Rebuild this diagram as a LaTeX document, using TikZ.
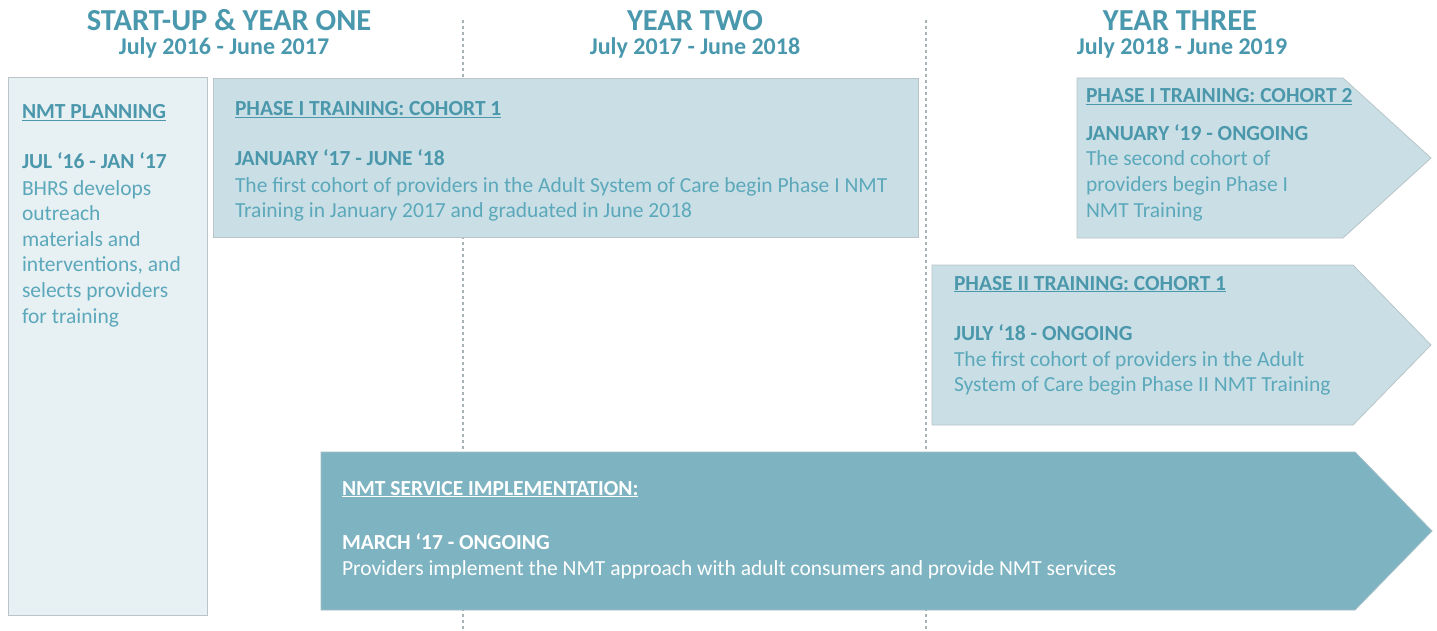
\documentclass[tikz,border=0pt]{standalone}
\usepackage{fontspec}
\setmainfont{Carlito}
\definecolor{headc}{HTML}{4A98AD}
\definecolor{datec}{HTML}{4B97AB}
\definecolor{bodyc}{HTML}{5CA8BB}
\definecolor{planfill}{HTML}{E7F0F3}
\definecolor{phasefill}{HTML}{C9DFE5}
\definecolor{servfill}{HTML}{7EB4C2}
\definecolor{edgec}{HTML}{B9C5C9}
\definecolor{gridc}{HTML}{A7B3B7}
\begin{document}
\begin{tikzpicture}[x=1pt,y=-1pt,
  every node/.style={inner sep=0pt,outer sep=0pt},
  yearhead/.style={font=\fontsize{30.5}{34}\selectfont\bfseries,text=headc,anchor=base,text depth=0pt},
  yearsub/.style={font=\fontsize{24}{28}\selectfont\bfseries,text=headc,anchor=base,text height=16pt},
  boxtitle/.style={font=\fontsize{21.5}{25.6}\selectfont\bfseries,text=datec,anchor=base west},
  boxdate/.style={font=\fontsize{21.5}{25.6}\selectfont\bfseries,text=datec,anchor=base west},
  boxbody/.style={font=\fontsize{21.5}{25.6}\selectfont,text=bodyc,anchor=base west,align=left},
  whitetitle/.style={boxtitle,text=white},
  whitebody/.style={boxbody,text=white},
  gridline/.style={draw=gridc,line width=1.6pt,dash pattern=on 3pt off 3pt},
  planbox/.style={fill=planfill,draw=edgec,line width=0.8pt},
  phasebox/.style={fill=phasefill,draw=edgec,line width=0.8pt},
  servbox/.style={fill=servfill,draw=edgec!60!servfill,line width=0.8pt}
]
\useasboundingbox[fill=white] (0,0) rectangle (1437,631);

% year separators
\coordinate (g1t) at (463,20); \coordinate (g1b) at (463,631);
\coordinate (g2t) at (926,20); \coordinate (g2b) at (926,631);
\draw[gridline] (g1t) -- (g1b);
\draw[gridline] (g2t) -- (g2b);

% headings
\node[yearhead] (h1) at (229,31) {START-UP \& YEAR ONE};
\node[yearsub] (s1) at (224,54.5) {July 2016 - June 2017};
\node[yearhead] (h2) at (695,31) {YEAR TWO};
\node[yearsub] (s2) at (695,54.5) {July 2017 - June 2018};
\node[yearhead] (h3) at (1180,31) {YEAR THREE};
\node[yearsub] (s3) at (1182,54.5) {July 2018 - June 2019};

% planning box
\path[planbox] (8,77) rectangle (207,615);
\node[boxtitle] (pt) at (22,119) {\underline{NMT PLANNING}};
\node[boxdate] (pd) at (22,169) {JUL ‘16 - JAN ‘17};
\node[boxbody] (pb) at (22,323) {BHRS develops\\outreach\\materials and\\interventions, and\\selects providers\\for training};

% phase I cohort 1
\path[phasebox] (213,78) rectangle (918,237);
\node[boxtitle] (c1t) at (235,116) {\underline{PHASE I TRAINING: COHORT 1}};
\node[boxdate] (c1d) at (235,166) {JANUARY ‘17 - JUNE ‘18};
\node[boxbody] (c1b) at (235,217.6) {The first cohort of providers in the Adult System of Care begin Phase I NMT\\Training in January 2017 and graduated in June 2018};

% phase I cohort 2
\path[phasebox] (1077,78) -- (1343,78) -- (1431,158) -- (1343,238) -- (1077,238) -- cycle;
\node[boxtitle] (c2t) at (1086,103) {\underline{PHASE I TRAINING: COHORT 2}};
\node[boxdate] (c2d) at (1086,141) {JANUARY ‘19 - ONGOING};
\node[boxbody] (c2b) at (1086,217.2) {The second cohort of\\providers begin Phase I\\NMT Training};

% phase II cohort 1
\path[phasebox] (932,265) -- (1353,265) -- (1431,345) -- (1353,425) -- (932,425) -- cycle;
\node[boxtitle] (p2t) at (954,290) {\underline{PHASE II TRAINING: COHORT 1}};
\node[boxdate] (p2d) at (954,340) {JULY ‘18 - ONGOING};
\node[boxbody] (p2b) at (954,391.6) {The first cohort of providers in the Adult\\System of Care begin Phase II NMT Training};

% service implementation
\path[servbox] (321,452) -- (1355,452) -- (1432,531) -- (1355,610) -- (321,610) -- cycle;
\node[whitetitle] (st) at (342,495) {\underline{NMT SERVICE IMPLEMENTATION:}};
\node[whitetitle] (sd) at (342,549) {MARCH ‘17 - ONGOING};
\node[whitebody] (sb) at (342,575) {Providers implement the NMT approach with adult consumers and provide NMT services};
\end{tikzpicture}
\end{document}
